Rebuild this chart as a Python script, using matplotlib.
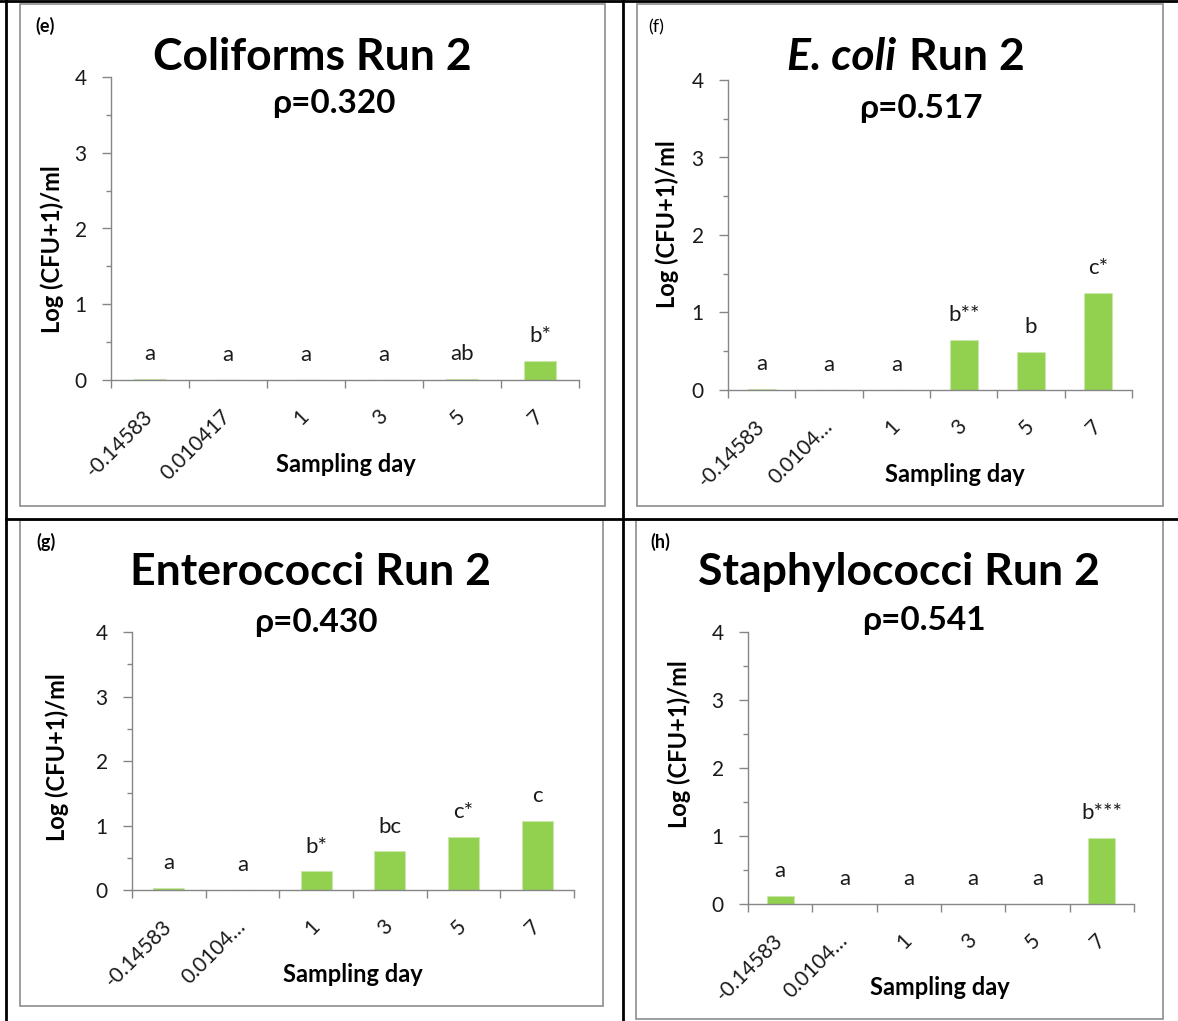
import numpy as np
import matplotlib
matplotlib.use("Agg")
import matplotlib.pyplot as plt
from matplotlib.patches import Rectangle
from matplotlib.lines import Line2D

plt.rcParams['font.family'] = ['Lato', 'DejaVu Sans']

# sampling days (second label is cut short on three of the panels)
days_full = ['-0.14583', '0.010417', '1', '3', '5', '7']
days_short = ['-0.14583', '0.0104…', '1', '3', '5', '7']

coliforms = [0.01, 0, 0, 0, 0.01, 0.25]
coliforms_letters = ['a', 'a', 'a', 'a', 'ab', 'b*']
ecoli = [0.01, 0, 0, 0.65, 0.49, 1.25]
ecoli_letters = ['a', 'a', 'a', 'b**', 'b', 'c*']
entero = [0.03, 0, 0.29, 0.60, 0.82, 1.07]
entero_letters = ['a', 'a', 'b*', 'bc', 'c*', 'c']
staph = [0.12, 0, 0, 0, 0, 0.97]
staph_letters = ['a', 'a', 'a', 'a', 'a', 'b***']

rho = ['0.320', '0.517', '0.430', '0.541']

W, H = 1178, 1021
fig = plt.figure(figsize=(W / 100, H / 100), dpi=100)

GREEN = '#92D050'
AXIS = '#868686'
TITLE_FS = 32
RHO_FS = 24
LABEL_FS = 17
TICK_FS = 15
LETTER_FS = 16


def fx(x):
    return x / W


def fy(y):
    return 1 - y / H


def ftext(x, y, s, **kw):
    kw.setdefault('va', 'baseline')
    kw.setdefault('ha', 'center')
    return fig.text(fx(x), fy(y), s, **kw)


def panel(box, plot, vals, letters, labels):
    # grey frame round the chart
    x0, y0, x1, y1 = box
    fig.add_artist(Rectangle((fx(x0), fy(y1)), fx(x1 - x0), (y1 - y0) / H,
                             transform=fig.transFigure, fill=False,
                             edgecolor='#8c8c8c', lw=1.2))
    px0, py0, px1, py1 = plot
    ax = fig.add_axes([fx(px0), fy(py1), fx(px1 - px0), (py1 - py0) / H])
    x = np.arange(len(vals))
    ax.bar(x, vals, width=0.42, color=GREEN, edgecolor='#c9e8aa',
           linestyle=(0, (2, 1)), linewidth=0.8)
    for i, (v, s) in enumerate(zip(vals, letters)):
        ax.annotate(s, (i, v), xytext=(0, 13.5), textcoords='offset points',
                    ha='center', va='baseline', fontsize=LETTER_FS, color='#1a1a1a')
    ax.set_xlim(-0.5, len(vals) - 0.5)
    ax.set_ylim(0, 4)
    ax.set_yticks([0, 1, 2, 3, 4])
    ax.set_yticks(np.arange(0, 4.01, 0.5), minor=True)
    ax.set_xticks(x)
    ax.set_xticklabels(labels, rotation=45, ha='right', va='center',
                       rotation_mode='anchor')
    ax.set_xticks(np.arange(-0.5, len(vals), 1), minor=True)
    ax.tick_params(axis='x', which='major', length=0, pad=24, labelsize=TICK_FS,
                   labelcolor='#1a1a1a')
    ax.tick_params(axis='x', which='minor', length=6, width=1, color=AXIS)
    ax.tick_params(axis='y', which='major', length=6.5, width=1, color=AXIS,
                   pad=11, labelsize=TICK_FS, labelcolor='#1a1a1a')
    ax.tick_params(axis='y', which='minor', length=3.5, width=1, color=AXIS)
    for side in ['top', 'right']:
        ax.spines[side].set_visible(False)
    for side in ['left', 'bottom']:
        ax.spines[side].set_color(AXIS)
        ax.spines[side].set_linewidth(1)
    ax.patch.set_alpha(0)
    return ax


# (e) coliforms
panel((20, 4, 605, 506), (111, 77, 579, 380), coliforms, coliforms_letters, days_full)
ftext(35, 32, '(e)', ha='left', fontsize=13, fontweight='bold')
ftext(312, 70, 'Coliforms Run 2', fontsize=TITLE_FS, fontweight='bold')
ftext(334, 113, 'ρ=' + rho[0], fontsize=RHO_FS, fontweight='bold')
ftext(52, 249, 'Log (CFU+1)/ml', rotation=90, va='center', fontsize=LABEL_FS, fontweight='bold')
ftext(346, 472, 'Sampling day', fontsize=LABEL_FS, fontweight='bold')

# (f) E. coli
panel((637, 4, 1163, 506), (728, 80, 1132, 390), ecoli, ecoli_letters, days_short)
ftext(648, 32, '(f)', ha='left', fontsize=13)
ftext(896, 70, 'E. coli', ha='right', fontsize=TITLE_FS, fontweight='bold', style='italic')
ftext(909, 70, 'Run 2', ha='left', fontsize=TITLE_FS, fontweight='bold')
ftext(921, 118, 'ρ=' + rho[1], fontsize=RHO_FS, fontweight='bold')
ftext(667, 224, 'Log (CFU+1)/ml', rotation=90, va='center', fontsize=LABEL_FS, fontweight='bold')
ftext(955, 482, 'Sampling day', fontsize=LABEL_FS, fontweight='bold')

# (g) enterococci
panel((20, 520, 603, 1006), (132, 632, 574, 890), entero, entero_letters, days_short)
ftext(36, 548, '(g)', ha='left', fontsize=13, fontweight='bold')
ftext(311, 585, 'Enterococci Run 2', fontsize=TITLE_FS, fontweight='bold')
ftext(316, 632, 'ρ=' + rho[2], fontsize=RHO_FS, fontweight='bold')
ftext(57, 757, 'Log (CFU+1)/ml', rotation=90, va='center', fontsize=LABEL_FS, fontweight='bold')
ftext(353, 982, 'Sampling day', fontsize=LABEL_FS, fontweight='bold')

# (h) staphylococci
panel((636, 520, 1163, 1019), (748, 632, 1134, 904), staph, staph_letters, days_short)
ftext(650, 548, '(h)', ha='left', fontsize=13, fontweight='bold')
ftext(899, 585, 'Staphylococci Run 2', fontsize=TITLE_FS, fontweight='bold')
ftext(924, 630, 'ρ=' + rho[3], fontsize=RHO_FS, fontweight='bold')
ftext(679, 744, 'Log (CFU+1)/ml', rotation=90, va='center', fontsize=LABEL_FS, fontweight='bold')
ftext(940, 995, 'Sampling day', fontsize=LABEL_FS, fontweight='bold')

# black table rules between the four charts
for xs, ys in [((0, W), (1.5, 1.5)), ((6, 6), (0, H)), ((623, 623), (0, H)),
               ((6, W), (519, 519))]:
    fig.add_artist(Line2D([fx(v) for v in xs], [fy(v) for v in ys],
                          transform=fig.transFigure, color='black', lw=2))

fig.savefig('out.png', dpi=100)
